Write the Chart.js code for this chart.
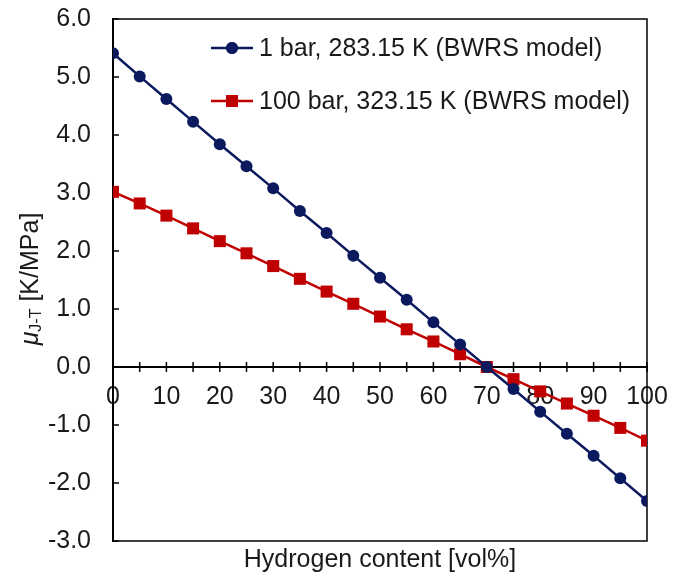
<!DOCTYPE html>
<html>
<head>
  <meta charset="UTF-8">
  <title>Joule-Thomson coefficient vs hydrogen content</title>
  <script src="https://cdn.jsdelivr.net/npm/chart.js"></script>
  <style>
    html, body {
      margin: 0;
      padding: 0;
      background: #ffffff;
    }
  </style>
</head>
<body>

  <canvas id="jtChart" width="683" height="577"></canvas>

  <script>
    // hydrogen content [vol%]
    const hydrogen = [0, 5, 10, 15, 20, 25, 30, 35, 40, 45, 50, 55, 60, 65, 70, 75, 80, 85, 90, 95, 100];
    // mu J-T [K/MPa], 1 bar, 283.15 K
    const muLowP = [5.41, 5.01, 4.62, 4.23, 3.84, 3.46, 3.08, 2.69, 2.31, 1.92, 1.54, 1.16, 0.77, 0.39, 0.0, -0.38, -0.77, -1.15, -1.53, -1.92, -2.31];
    // mu J-T [K/MPa], 100 bar, 323.15 K
    const muHighP = [3.02, 2.82, 2.61, 2.39, 2.17, 1.96, 1.74, 1.52, 1.30, 1.09, 0.87, 0.65, 0.44, 0.22, 0.0, -0.21, -0.42, -0.63, -0.84, -1.05, -1.27];
    const seriesNames = ['1 bar, 283.15 K (BWRS model)', '100 bar, 323.15 K (BWRS model)'];

    const navy = '#0b1a5e';
    const red = '#c00000';
    const fontFamily = "'Liberation Sans', Arial, sans-serif";
    const textColor = '#1a1a1a';

    // frame box, inside ticks on y, crossing ticks on x
    const framePlugin = {
      id: 'frame',
      beforeDatasetsDraw(chart) {
        const { ctx, chartArea: a, scales } = chart;
        ctx.save();
        ctx.strokeStyle = '#000';
        ctx.lineWidth = 1.5;
        ctx.strokeRect(a.left, a.top, a.right - a.left, a.bottom - a.top);
        const y0 = scales.y.getPixelForValue(0);
        scales.x.ticks.forEach(t => {
          const px = scales.x.getPixelForValue(t.value);
          ctx.beginPath();
          ctx.moveTo(px, y0 - 5);
          ctx.lineTo(px, y0 + 5);
          ctx.stroke();
        });
        scales.y.ticks.forEach(t => {
          const py = scales.y.getPixelForValue(t.value);
          ctx.beginPath();
          ctx.moveTo(a.left, py);
          ctx.lineTo(a.left + 6, py);
          ctx.stroke();
        });
        ctx.restore();
      },
      afterDraw(chart) {
        const { ctx } = chart;
        ctx.save();
        // y axis title with subscript
        ctx.translate(31, 279);
        ctx.rotate(-Math.PI / 2);
        ctx.fillStyle = textColor;
        ctx.textBaseline = 'middle';
        const muFont = 'italic 25px ' + fontFamily;
        const subFont = '16px ' + fontFamily;
        const restFont = '25px ' + fontFamily;
        ctx.font = muFont; const w1 = ctx.measureText('\u03bc').width;
        ctx.font = subFont; const w2 = ctx.measureText('J-T').width;
        ctx.font = restFont; const w3 = ctx.measureText(' [K/MPa]').width;
        let x = -(w1 + w2 + w3) / 2;
        ctx.font = muFont; ctx.fillText('\u03bc', x, 0); x += w1;
        ctx.font = subFont; ctx.fillText('J-T', x, 6); x += w2;
        ctx.font = restFont; ctx.fillText(' [K/MPa]', x, 0);
        ctx.restore();

        // legend inside plot
        const rows = [
          { y: 48, color: navy, style: 'circle', r: 6 },
          { y: 101, color: red, style: 'rect', r: 8.5 }
        ];
        ctx.save();
        ctx.font = '25px ' + fontFamily;
        ctx.textBaseline = 'middle';
        rows.forEach((row, i) => {
          ctx.strokeStyle = row.color;
          ctx.lineWidth = 2.5;
          ctx.beginPath();
          ctx.moveTo(211, row.y);
          ctx.lineTo(253, row.y);
          ctx.stroke();
          ctx.fillStyle = row.color;
          Chart.helpers.drawPoint(ctx, { pointStyle: row.style, radius: row.r, borderWidth: 0 }, 232, row.y);
          ctx.fill();
          ctx.fillStyle = textColor;
          ctx.fillText(seriesNames[i], 259, row.y + 1);
        });
        ctx.restore();
      }
    };

    const ctx = document.getElementById('jtChart').getContext('2d');
    new Chart(ctx, {
      type: 'line',
      data: {
        datasets: [
          {
            label: seriesNames[0],
            data: hydrogen.map((h, i) => ({ x: h, y: muLowP[i] })),
            borderColor: navy,
            backgroundColor: navy,
            borderWidth: 2.5,
            pointStyle: 'circle',
            pointRadius: 6,
            pointBorderWidth: 0,
            tension: 0
          },
          {
            label: seriesNames[1],
            data: hydrogen.map((h, i) => ({ x: h, y: muHighP[i] })),
            borderColor: red,
            backgroundColor: red,
            borderWidth: 2.5,
            pointStyle: 'rect',
            pointRadius: 8.5,
            pointBorderWidth: 0,
            tension: 0
          }
        ]
      },
      plugins: [framePlugin],
      options: {
        responsive: false,
        maintainAspectRatio: false,
        animation: false,
        layout: { padding: { top: 19, right: 36, bottom: 0, left: 0 } },
        scales: {
          x: {
            type: 'linear',
            position: { y: 0 },
            min: 0,
            max: 100,
            afterFit: s => { s.height = 0; s.paddingTop = 0; s.paddingBottom = 0; },
            ticks: {
              stepSize: 5,
              autoSkip: false,
              maxRotation: 0,
              padding: 7,
              color: textColor,
              font: { family: fontFamily, size: 25 },
              callback: v => (v % 10 === 0 ? String(v) : '')
            },
            grid: { display: false },
            border: { display: true, color: '#000', width: 2 }
          },
          y: {
            min: -3,
            max: 6,
            afterFit: s => { s.width = 113; s.paddingTop = 0; s.paddingBottom = 0; },
            ticks: {
              stepSize: 1,
              padding: 14,
              color: textColor,
              font: { family: fontFamily, size: 25 },
              callback: v => v.toFixed(1)
            },
            grid: { display: false },
            border: { display: true, color: '#000', width: 2 }
          }
        },
        plugins: {
          legend: { display: false },
          tooltip: { enabled: false },
          title: {
            display: true,
            position: 'bottom',
            fullSize: false,
            text: 'Hydrogen content [vol%]',
            color: textColor,
            font: { family: fontFamily, size: 25, weight: 'normal' },
            padding: { top: 4, bottom: 2 }
          }
        }
      }
    });
  </script>

</body>
</html>
